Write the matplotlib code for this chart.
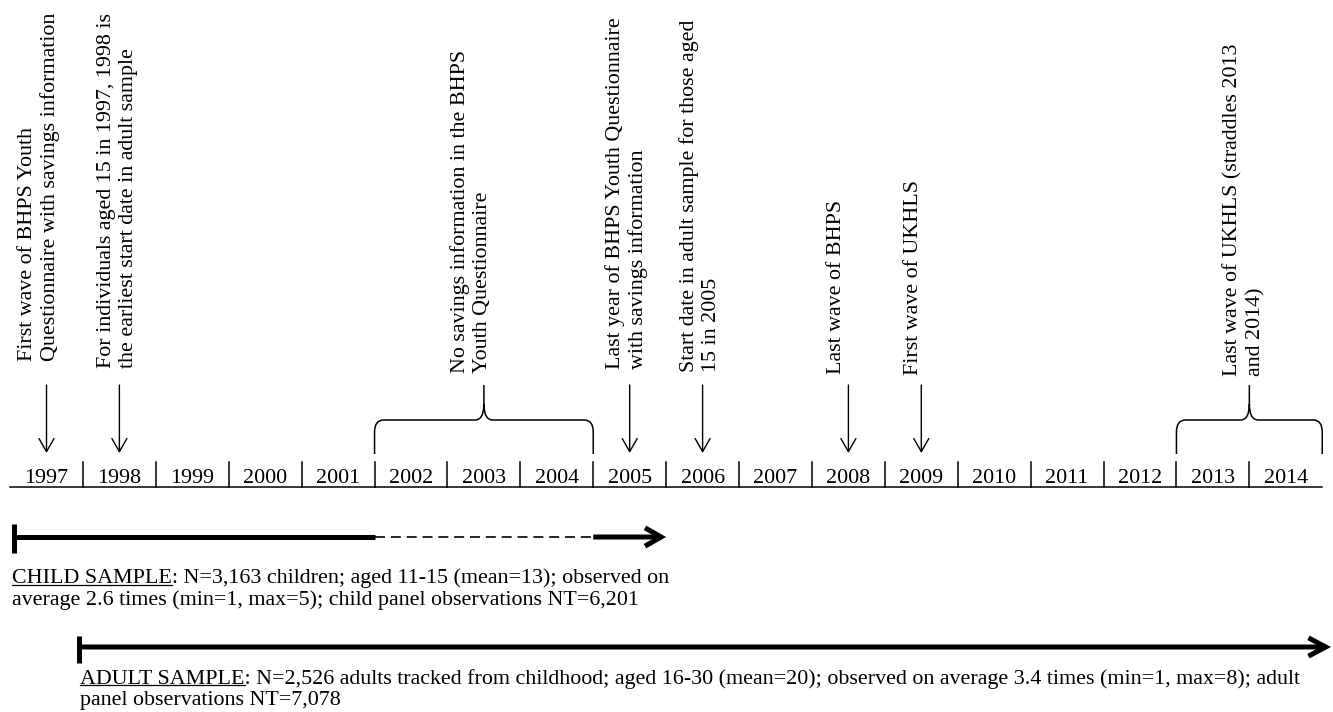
import matplotlib
matplotlib.use('Agg')
from matplotlib import pyplot as plt
from matplotlib.path import Path
from matplotlib.patches import PathPatch, FancyArrowPatch

plt.rcParams['font.family'] = ['Liberation Serif', 'DejaVu Serif']

# timeline cells
years = list(range(1997, 2015))

# single-year events: arrow year, label column (year units), top of text (px)
event_years = [1997, 1998, 2005, 2006, 2008, 2009]
event_label_x = [1996.90, 1997.98, 2004.96, 2005.96, 2007.84, 2008.89]
event_label_top = [13, 13, 17, 20, 200, 180]
event_labels = [
    "First wave of BHPS Youth\nQuestionnaire with savings information",
    "For individuals aged 15 in 1997, 1998 is\nthe earliest start date in adult sample",
    "Last year of BHPS Youth Questionnaire\nwith savings information",
    "Start date in adult sample for those aged\n15 in 2005",
    "Last wave of BHPS",
    "First wave of UKHLS",
]

# multi-year events shown with a brace
span_start = [2002, 2013]
span_end = [2004, 2014]
span_label_x = [2002.83, 2013.43]
span_label_top = [50, 43]
span_labels = [
    "No savings information in the BHPS\nYouth Questionnaire",
    "Last wave of UKHLS (straddles 2013\nand 2014)",
]

# sample coverage (year units)
child_solid = [(1996.554, 2001.5)]
child_gap = (2001.5, 2004.5)
child_last = (2004.5, 2005.5)
adult_span = (1997.446, 2014.62)

child_text = ("CHILD SAMPLE: N=3,163 children; aged 11-15 (mean=13); observed on\n"
              "average 2.6 times (min=1, max=5); child panel observations NT=6,201")
adult_text = ("ADULT SAMPLE: N=2,526 adults tracked from childhood; aged 16-30 (mean=20); "
              "observed on average 3.4 times (min=1, max=8); adult\npanel observations NT=7,078")

FS = 15.8
PX = 1 / 72.9  # one pixel in year units

fig = plt.figure(figsize=(13.33, 7.12), dpi=100)
ax = fig.add_axes([0, 0, 1, 1])
ax.set_xlim(1997 - 46.5 * PX, 1997 + (1333 - 46.5) * PX)
ax.set_ylim(712, 0)
ax.axis('off')

# axis line, separators and year labels
ax.plot([years[0] - 0.5, years[-1] + 0.5], [487, 487], color='black', lw=1.1)
for y in years[:-1]:
    ax.plot([y + 0.5, y + 0.5], [462, 487], color='black', lw=1.1)
for y in years:
    ax.text(y, 483, str(y), fontsize=FS, ha='center', va='baseline')

# event arrows and labels
for yr, lx, top, lab in zip(event_years, event_label_x, event_label_top, event_labels):
    ax.annotate("", xy=(yr, 453), xytext=(yr, 385),
                arrowprops=dict(arrowstyle='->,head_length=0.47,head_width=0.27',
                                lw=1.0, color='black', shrinkA=0, shrinkB=0,
                                mutation_scale=20))
    ax.text(lx, top, lab, fontsize=FS, rotation=90, ha='center', va='top',
            multialignment='left', linespacing=1.21)


def brace(x0, x1, ybot=454, yh=420, ytip=385):
    xm = (x0 + x1) / 2
    d = 9 * PX
    verts = [(x0, ybot), (x0, yh + 12), (x0, yh), (x0 + d, yh), (xm - d, yh),
             (xm, yh), (xm, yh - 16), (xm, ytip),
             (xm, yh - 16), (xm, yh), (xm + d, yh), (x1 - d, yh),
             (x1, yh), (x1, yh + 12), (x1, ybot)]
    codes = [Path.MOVETO, Path.LINETO, Path.CURVE3, Path.CURVE3, Path.LINETO,
             Path.CURVE3, Path.CURVE3, Path.LINETO,
             Path.MOVETO, Path.CURVE3, Path.CURVE3, Path.LINETO,
             Path.CURVE3, Path.CURVE3, Path.LINETO]
    ax.add_patch(PathPatch(Path(verts, codes), fill=False, lw=1.1, color='black'))


for s, e, lx, top, lab in zip(span_start, span_end, span_label_x, span_label_top, span_labels):
    brace(s - 0.5, e + 0.5)
    ax.text(lx, top, lab, fontsize=FS, rotation=90, ha='center', va='top',
            multialignment='left', linespacing=1.21)

# child sample bar
cy = 537
ax.plot([child_solid[0][0], child_solid[0][0]], [524, 553], color='black', lw=3.6,
        solid_capstyle='butt')
for a, b in child_solid:
    ax.plot([a, b], [cy, cy], color='black', lw=3.6, solid_capstyle='butt')
ax.plot(child_gap, [cy, cy], color='black', lw=1.2, dashes=(6, 3.5))
ax.add_patch(FancyArrowPatch((child_last[0], cy), (child_last[1], cy),
                             arrowstyle='->,head_length=0.58,head_width=0.33',
                             mutation_scale=20, lw=3.6, color='black',
                             shrinkA=0, shrinkB=0, joinstyle='miter', capstyle='butt'))

# adult sample bar
ay = 647
ax.plot([adult_span[0], adult_span[0]], [636, 663], color='black', lw=3.6,
        solid_capstyle='butt')
ax.add_patch(FancyArrowPatch((adult_span[0], ay), (adult_span[1], ay),
                             arrowstyle='->,head_length=0.62,head_width=0.33',
                             mutation_scale=20, lw=3.6, color='black',
                             shrinkA=0, shrinkB=0, joinstyle='miter', capstyle='butt'))

# sample descriptions (va='baseline' pins the last line)
tx_child = ax.text(1997 - 34.5 * PX, 605, child_text, fontsize=FS, ha='left',
                   va='baseline', linespacing=1.15)
tx_adult = ax.text(adult_span[0] + 1 * PX, 705, adult_text, fontsize=FS, ha='left',
                   va='baseline', linespacing=1.15)

# underline the sample names
fig.canvas.draw()
r = fig.canvas.get_renderer()
for t, word, uy in [(tx_child, "CHILD SAMPLE", 585), (tx_adult, "ADULT SAMPLE", 685)]:
    tmp = ax.text(t.get_position()[0], 0, word, fontsize=FS)
    w = tmp.get_window_extent(r).width
    tmp.remove()
    x0 = t.get_position()[0]
    ax.plot([x0, x0 + w * PX], [uy, uy], color='black', lw=0.9)

fig.savefig('out.png', dpi=100)
